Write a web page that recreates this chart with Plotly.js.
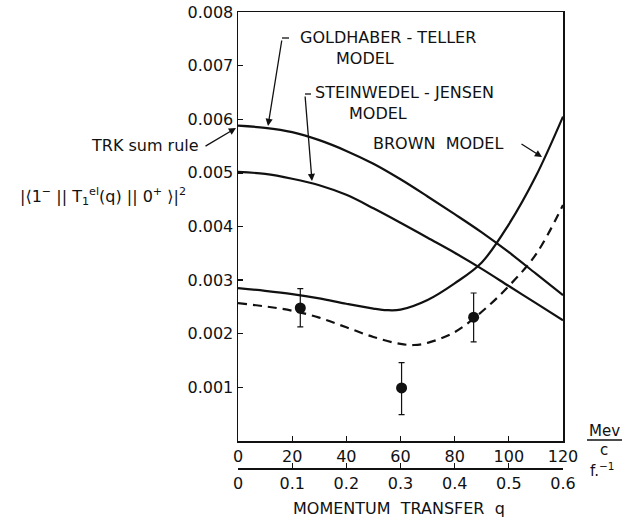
<!DOCTYPE html>
<html>
<head>
<meta charset="utf-8">
<script src="https://cdn.plot.ly/plotly-3.0.1.min.js"></script>
<style>html,body{margin:0;padding:0;background:#fff;}</style>
</head>
<body>
<div id="chart" style="width:626px;height:522px;"></div>
<script>
// ---- data ----
const qGrid = [0, 10, 20, 30, 40, 50, 60, 70, 80, 90, 100, 110, 120];
const goldhaberTeller = [0.00588, 0.00584, 0.00576, 0.00561, 0.00541, 0.00517, 0.00488, 0.00456, 0.00423, 0.00389, 0.00352, 0.00312, 0.00272];
const steinwedelJensen = [0.00502, 0.00498, 0.00489, 0.00477, 0.00459, 0.00434, 0.00407, 0.00379, 0.00351, 0.00321, 0.00289, 0.00257, 0.00225];
const qBrown = [0, 10, 20, 30, 40, 50, 55, 60, 70, 80, 90, 100, 110, 120];
const brownModel = [0.00285, 0.00280, 0.00274, 0.00266, 0.00256, 0.00247, 0.00244, 0.00245, 0.00263, 0.00294, 0.00333, 0.00404, 0.00494, 0.00605];
const qDashed = [0, 10, 20, 30, 40, 50, 60, 65, 70, 80, 90, 100, 110, 120];
const brownDashed = [0.00257, 0.00251, 0.00243, 0.00230, 0.00212, 0.00194, 0.00181, 0.00179, 0.00183, 0.00203, 0.00241, 0.00289, 0.00348, 0.00440];
const dataQ = [23, 60.4, 87];
const dataVal = [0.00248, 0.00099, 0.00231];
const errUp = [0.00036, 0.00047, 0.00045];
const errDown = [0.00035, 0.00050, 0.00046];
const yTickVals = [0.001, 0.002, 0.003, 0.004, 0.005, 0.006, 0.007, 0.008];
const yTickText = ['0.001', '0.002', '0.003', '0.004', '0.005', '0.006', '0.007', '0.008'];
const xTickVals = [0, 20, 40, 60, 80, 100, 120];
const xTickText = ['0', '20', '40', '60', '80', '100', '120'];
const x2TickVals = [0, 0.1, 0.2, 0.3, 0.4, 0.5, 0.6];
const x2TickText = ['0', '0.1', '0.2', '0.3', '0.4', '0.5', '0.6'];

// ---- layout geometry (pixels) ----
const W = 626, H = 522;
const M = {l: 238, r: 63, t: 12, b: 40};
const pw = W - M.l - M.r, ph = H - M.t - M.b;
const px = p => (p - M.l) / pw;           // pixel x -> paper x
const py = p => (H - M.b - p) / ph;        // pixel y -> paper y
const FONT = 'DejaVu Sans, sans-serif';
const black = '#111';

const line = (x, y, extra) => Object.assign({
  x: x, y: y, type: 'scatter', mode: 'lines',
  line: {color: black, width: 2.2, shape: 'spline', smoothing: 1},
  hoverinfo: 'skip', showlegend: false
}, extra || {});

const traces = [
  line(qGrid, goldhaberTeller),
  line(qGrid, steinwedelJensen),
  line(qBrown, brownModel),
  line(qDashed, brownDashed, {line: {color: black, width: 2.2, dash: '9px,6px', shape: 'spline', smoothing: 1}}),
  {
    x: dataQ, y: dataVal, type: 'scatter', mode: 'markers',
    marker: {color: black, size: 11},
    error_y: {type: 'data', symmetric: false, array: errUp, arrayminus: errDown,
              color: black, thickness: 1.2, width: 3},
    showlegend: false, hoverinfo: 'skip'
  },
  {x: [0, 0.6], y: [0, 0], xaxis: 'x2', yaxis: 'y', type: 'scatter', mode: 'markers',
   marker: {opacity: 0}, showlegend: false, hoverinfo: 'skip'}
];

const ann = (text, xp, yp, opts) => Object.assign({
  text: text, xref: 'paper', yref: 'paper', x: px(xp), y: py(yp),
  showarrow: false, font: {family: FONT, size: 16, color: black},
  xanchor: 'left', yanchor: 'middle'
}, opts || {});

const arrow = (tipX, tipY, tailX, tailY) => ({
  text: '', xref: 'paper', yref: 'paper', axref: 'pixel', ayref: 'pixel',
  x: px(tipX), y: py(tipY), ax: tailX - tipX, ay: tailY - tipY,
  showarrow: true, arrowhead: 2, arrowsize: 1.1, arrowwidth: 1.3, arrowcolor: black,
  standoff: 0, startstandoff: 0
});

const small = {family: FONT, size: 15, color: black};
const annotations = [
  ann('GOLDHABER - TELLER', 298, 38),
  ann('MODEL', 334, 58),
  ann('STEINWEDEL - JENSEN', 313, 93),
  ann('MODEL', 347, 113),
  ann('BROWN  MODEL', 371, 143),
  ann('TRK sum rule', 201, 146, {xanchor: 'right'}),
  ann('|⟨1<sup>−</sup> || T<sub>1</sub><sup>el</sup>(q) || 0<sup>+</sup> ⟩|<sup>2</sup>', 103, 196, {xanchor: 'center'}),
  ann('Mev', 604, 431, {xanchor: 'center', font: small}),
  ann('c', 604, 450, {xanchor: 'center', font: small}),
  ann('f.<sup>−1</sup>', 602, 470, {xanchor: 'center', font: small}),
  ann('MOMENTUM  TRANSFER  q', 399, 508, {xanchor: 'center'}),
  arrow(268, 126, 282, 39),
  arrow(312, 181, 305, 95),
  arrow(542, 157, 520, 143),
  arrow(236, 128, 204, 147)
];

const shapes = [
  {type: 'line', xref: 'paper', yref: 'paper', x0: px(282), x1: px(289), y0: py(38), y1: py(38), line: {color: black, width: 1.3}},
  {type: 'line', xref: 'paper', yref: 'paper', x0: px(305), x1: px(311), y0: py(94), y1: py(94), line: {color: black, width: 1.3}},
  {type: 'line', xref: 'paper', yref: 'paper', x0: px(587), x1: px(622), y0: py(440), y1: py(440), line: {color: black, width: 1.5}}
];

const axisBase = {
  showline: true, linecolor: black, linewidth: 1.5, mirror: false,
  ticks: 'inside', ticklen: 5, tickcolor: black, tickwidth: 1.3,
  showgrid: false, zeroline: false, tickmode: 'array',
  tickfont: {family: FONT, size: 16, color: black}, fixedrange: true
};

const layout = {
  width: W, height: H,
  margin: M,
  paper_bgcolor: '#fff', plot_bgcolor: '#fff',
  showlegend: false,
  xaxis: Object.assign({}, axisBase, {range: [0, 120], tickvals: xTickVals, ticktext: xTickText,
    mirror: true, anchor: 'y'}),
  xaxis2: Object.assign({}, axisBase, {range: [0, 0.6], tickvals: x2TickVals, ticktext: x2TickText,
    overlaying: 'x', anchor: 'free', position: py(468), side: 'bottom'}),
  yaxis: Object.assign({}, axisBase, {range: [0, 0.008], tickvals: yTickVals, ticktext: yTickText,
    mirror: true, domain: [py(441), 1]}),
  annotations: annotations,
  shapes: shapes
};

Plotly.newPlot('chart', traces, layout, {displayModeBar: false, staticPlot: true});
</script>
</body>
</html>
